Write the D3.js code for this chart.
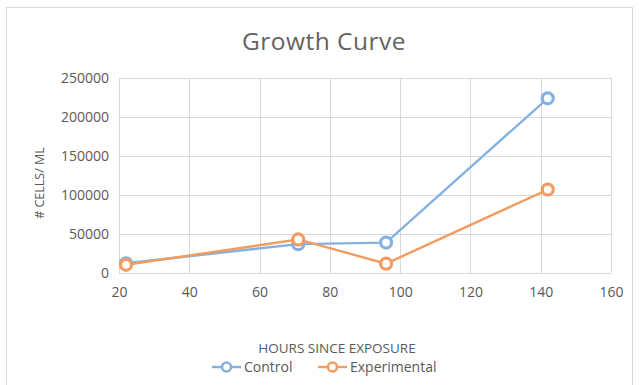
<!DOCTYPE html>
<html>
<head>
<meta charset="utf-8">
<script src="https://cdn.jsdelivr.net/npm/d3@7"></script>
<style>
  html, body { margin: 0; padding: 0; background: #fff; }
  svg { display: block; font-family: "Open Sans", Lato, sans-serif; }
</style>
</head>
<body>
<script>
// Sample measurements
const hours = [22, 71, 96, 142];
const controlCells = [12500, 37000, 39000, 224000];
const experimentalCells = [10500, 43000, 12000, 107000];
const seriesNames = ["Control", "Experimental"];
const xTicks = [20, 40, 60, 80, 100, 120, 140, 160];
const yTicks = [0, 50000, 100000, 150000, 200000, 250000];

const W = 639, H = 385;
const colors = { Control: "#84b1e0", Experimental: "#f19c60" };
const textColor = "#595959";

const svg = d3.select("body").append("svg").attr("width", W).attr("height", H);

// chart frame
svg.append("rect")
  .attr("x", 6.5).attr("y", 7.5).attr("width", 626).attr("height", 390)
  .attr("fill", "#fff").attr("stroke", "#d9d9d9");

const plot = { left: 119, right: 611, top: 78, bottom: 273 };
const x = d3.scaleLinear().domain([20, 160]).range([plot.left, plot.right]);
const y = d3.scaleLinear().domain([0, 250000]).range([plot.bottom, plot.top]);

// title
svg.append("text").attr("x", 324).attr("y", 50).attr("text-anchor", "middle")
  .attr("fill", "#636363").attr("font-size", 24.5).attr("letter-spacing", 0.5)
  .text("Growth Curve");

// gridlines
const grid = svg.append("g").attr("stroke", "#d9d9d9").attr("stroke-width", 1);
grid.selectAll(".gy").data(yTicks).join("line")
  .attr("x1", plot.left).attr("x2", plot.right)
  .attr("y1", d => Math.round(y(d)) + 0.5).attr("y2", d => Math.round(y(d)) + 0.5);
grid.selectAll(".gx").data(xTicks).join("line")
  .attr("y1", plot.top).attr("y2", plot.bottom)
  .attr("x1", d => Math.round(x(d)) + 0.5).attr("x2", d => Math.round(x(d)) + 0.5);

// axes (labels only)
const yAxis = svg.append("g").attr("transform", `translate(${plot.left - 7},0)`)
  .call(d3.axisLeft(y).tickValues(yTicks).tickSize(0).tickFormat(d3.format("d")));
const xAxis = svg.append("g").attr("transform", `translate(0,${plot.bottom + 11})`)
  .call(d3.axisBottom(x).tickValues(xTicks).tickSize(0));
[yAxis, xAxis].forEach(a => {
  a.select(".domain").remove();
  a.selectAll("text").attr("fill", textColor).attr("font-size", 14)
    .attr("font-family", "\"Open Sans\", Lato, sans-serif");
});

// axis titles
svg.append("text").attr("transform", "translate(44,183) rotate(-90)")
  .attr("text-anchor", "middle").attr("fill", textColor).attr("font-size", 12.5)
  .text("# CELLS/ ML");
svg.append("text").attr("x", 337).attr("y", 353).attr("text-anchor", "middle")
  .attr("fill", textColor).attr("font-size", 13.5).text("HOURS SINCE EXPOSURE");

// series
const series = [
  { name: "Control", values: controlCells },
  { name: "Experimental", values: experimentalCells }
];
const line = d3.line().x(d => x(d[0])).y(d => y(d[1]));
series.forEach(s => {
  const pts = hours.map((h, i) => [h, s.values[i]]);
  const g = svg.append("g");
  g.append("path").datum(pts).attr("d", line).attr("fill", "none")
    .attr("stroke", colors[s.name]).attr("stroke-width", 2.4);
  g.selectAll("circle").data(pts).join("circle")
    .attr("cx", d => x(d[0])).attr("cy", d => y(d[1])).attr("r", 5.5)
    .attr("fill", "#fff").attr("stroke", colors[s.name]).attr("stroke-width", 3.2);
});

// legend
const legend = svg.append("g").attr("transform", "translate(0,367)");
const legendX = [212, 318];
seriesNames.forEach((n, i) => {
  const lx = legendX[i];
  legend.append("line").attr("x1", lx).attr("x2", lx + 29).attr("y1", 0).attr("y2", 0)
    .attr("stroke", colors[n]).attr("stroke-width", 2.4);
  legend.append("circle").attr("cx", lx + 14.5).attr("cy", 0).attr("r", 4.5)
    .attr("fill", "#fff").attr("stroke", colors[n]).attr("stroke-width", 2.6);
  legend.append("text").attr("x", lx + 32).attr("y", 5).attr("fill", textColor)
    .attr("font-size", 14).text(n);
});
</script>
</body>
</html>
